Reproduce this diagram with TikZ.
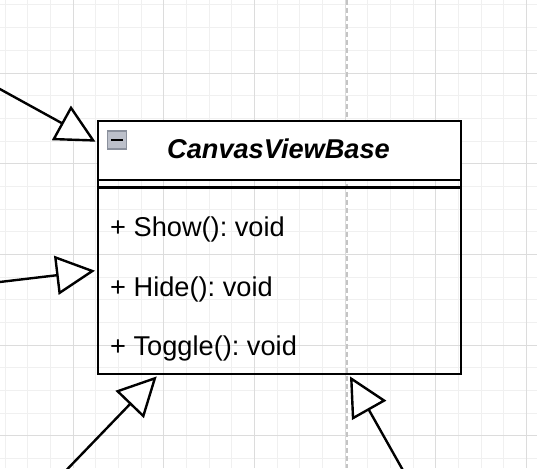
\documentclass[tikz,border=0pt]{standalone}
\usepackage{fontspec}
\setmainfont{Liberation Sans}
\usetikzlibrary{arrows.meta}
\frenchspacing
\definecolor{gridminor}{HTML}{F0F0F0}
\definecolor{gridmajor}{HTML}{DCDCDC}
\definecolor{guide}{HTML}{C4C4C4}
\definecolor{iconfill}{HTML}{BCC0CA}
\definecolor{icondraw}{HTML}{8A909C}
\tikzset{
  minorline/.style={gridminor, line width=1pt},
  majorline/.style={gridmajor, line width=1pt},
  guideline/.style={guide, line width=1.8pt, dash pattern=on 5pt off 3pt},
  hdrbox/.style={draw=black, fill=white, line width=2.3pt, inner sep=0pt, anchor=north west, minimum width=363pt, minimum height=59pt},
  clsbox/.style={draw=black, line width=2.4pt, inner sep=0pt, anchor=north west, minimum width=363pt, minimum height=253pt},
  iconbox/.style={draw=icondraw, fill=iconfill, line width=1.2pt, inner sep=0pt, minimum width=19pt, minimum height=18pt},
  titletext/.style={anchor=base, inner sep=0pt, font=\fontsize{27.2}{32}\selectfont\bfseries\itshape},
  methodtext/.style={anchor=base west, inner sep=0pt, font=\fontsize{27.2}{32}\selectfont},
  gen/.style={draw=black, line width=2.4pt, -{Triangle[open, fill=white, length=39pt, width=39pt]}}
}
\begin{document}
\begin{tikzpicture}[x=1pt,y=-1pt]
\useasboundingbox (0,0) rectangle (537,468);
\fill[white] (0,0) rectangle (537,468);
% grid
\foreach \k in {0,...,23} \draw[minorline] ({5+22.667*\k},0) -- ({5+22.667*\k},468);
\foreach \k in {0,...,20} \draw[minorline] (0,{5+22.667*\k}) -- (537,{5+22.667*\k});
\foreach \k in {3,7,11,15,19,23} \draw[majorline] ({5+22.667*\k},0) -- ({5+22.667*\k},468);
\foreach \k in {3,7,11,15,19} \draw[majorline] (0,{5+22.667*\k}) -- (537,{5+22.667*\k});
% guide
\draw[guideline] (346.7,0) -- (346.7,468);
% class
\node[hdrbox] (hdr) at (97,120) {};
\node[clsbox] (cls) at (97,120) {};
\draw[line width=2.3pt] ([yshift=-67.5pt]cls.north west) -- ([yshift=-67.5pt]cls.north east);
\node[iconbox] (ico) at (117.3,140) {};
\draw[line width=2.4pt] ([xshift=-6pt]ico.center) -- ([xshift=6pt]ico.center);
\node[titletext] (title) at (278.5,158.3) {CanvasViewBase};
\node[methodtext] (m1) at (110,236) {+ Show(): void};
\node[methodtext] (m2) at (110,296) {+ Hide(): void};
\node[methodtext] (m3) at (110,355) {+ Toggle(): void};
% connector ends
\coordinate (e1) at ([xshift=-1.5pt, yshift=-21.7pt]cls.north west);
\coordinate (e2) at ([xshift=-2pt, yshift=-150.7pt]cls.north west);
\coordinate (e3) at ([xshift=59.7pt, yshift=-1pt]cls.south west);
\coordinate (e4) at ([xshift=253pt, yshift=-1pt]cls.south west);
\coordinate (s1) at (-2,88);
\coordinate (s2) at (-2,282.2);
\coordinate (s3) at (66.5,470);
\coordinate (s4) at (402.8,470);
\draw[gen] (s1) -- (e1);
\draw[gen] (s2) -- (e2);
\draw[gen] (s3) -- (e3);
\draw[gen] (s4) -- (e4);
\end{tikzpicture}
\end{document}
